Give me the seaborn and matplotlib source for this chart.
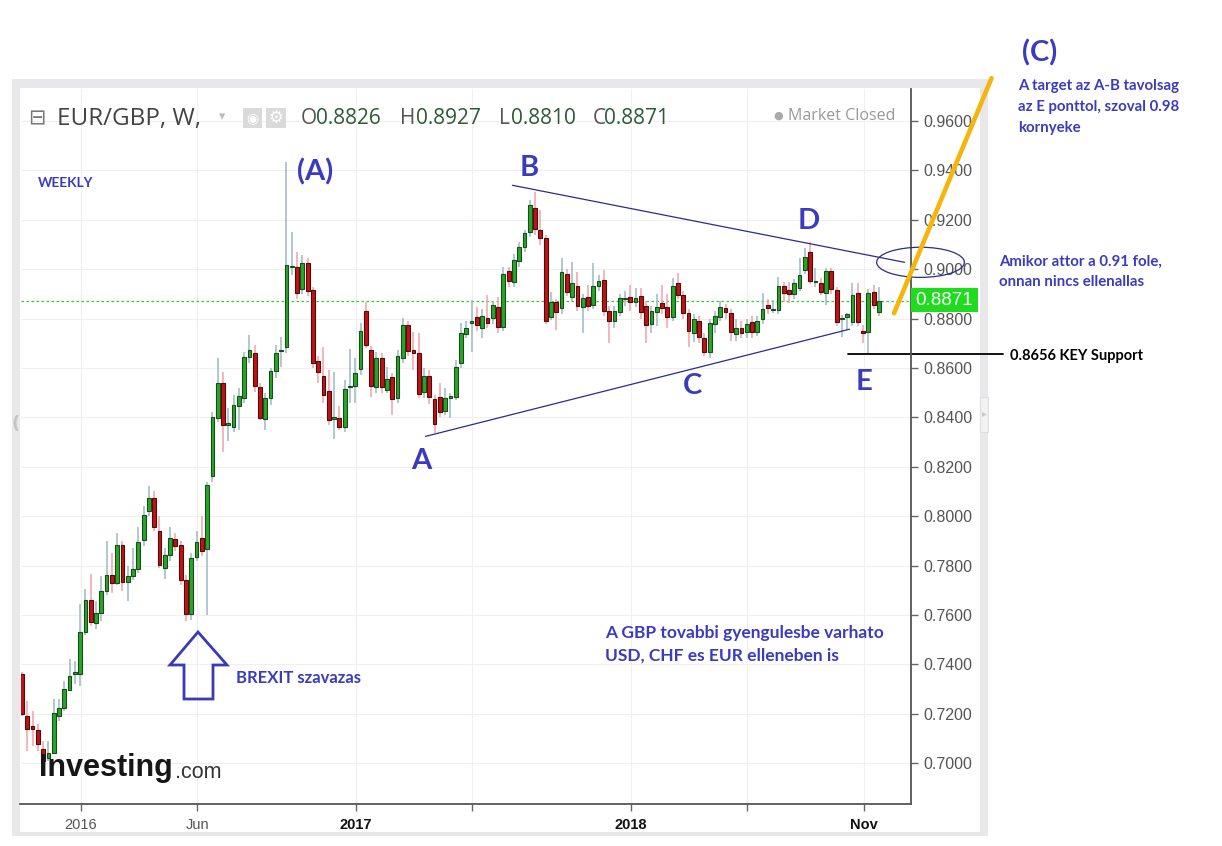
import numpy as np
import pandas as pd
import matplotlib.pyplot as plt
import matplotlib.dates as mdates
from matplotlib.patches import Rectangle, Ellipse, Polygon
from matplotlib.ticker import FormatStrFormatter
import seaborn as sns

# weekly EUR/GBP candles
opens = [0.7362, 0.7191, 0.7151, 0.7135, 0.7057, 0.7021, 0.7041, 0.7191, 0.7224, 0.7297,
         0.7362, 0.7362, 0.7532, 0.7662, 0.7568, 0.7609, 0.7698, 0.7763, 0.7731, 0.7885,
         0.7735, 0.7759, 0.7787, 0.7905, 0.8019, 0.8075, 0.7941, 0.7791, 0.7844, 0.7909,
         0.7885, 0.7743, 0.7605, 0.7836, 0.7913, 0.7868, 0.8164, 0.8396, 0.8538, 0.8370,
         0.8359, 0.8448, 0.8477, 0.8643, 0.8659, 0.8521, 0.8392, 0.8477, 0.8586, 0.8668,
         0.8684, 0.9008, 0.9008, 0.8919, 0.9024, 0.8915, 0.8627, 0.8566, 0.8505, 0.8392,
         0.8396, 0.8363, 0.8521, 0.8529, 0.8594, 0.8830, 0.8671, 0.8521, 0.8639, 0.8509,
         0.8562, 0.8477, 0.8639, 0.8773, 0.8671, 0.8659, 0.8501, 0.8566, 0.8473, 0.8481,
         0.8424, 0.8477, 0.8481, 0.8619, 0.8736, 0.8781, 0.8805, 0.8761, 0.8801, 0.8801,
         0.8846, 0.8765, 0.8992, 0.8947, 0.9033, 0.9089, 0.9150, 0.9247, 0.9158, 0.9126,
         0.8805, 0.8866, 0.8842, 0.8980, 0.8886, 0.8931, 0.8846, 0.8886, 0.8854, 0.8931,
         0.8955, 0.8830, 0.8789, 0.8826, 0.8880, 0.8886, 0.8866, 0.8890, 0.8850, 0.8777,
         0.8826, 0.8862, 0.8846, 0.8805, 0.8943, 0.8894, 0.8822, 0.8740, 0.8789, 0.8720,
         0.8663, 0.8777, 0.8805, 0.8842, 0.8822, 0.8736, 0.8760, 0.8745, 0.8785, 0.8745,
         0.8797, 0.8854, 0.8836, 0.8834, 0.8931, 0.8915, 0.8898, 0.8923, 0.8996, 0.9069,
         0.8947, 0.8943, 0.8903, 0.8992, 0.8915, 0.8797, 0.8805, 0.8785, 0.8903, 0.8748,
         0.8745, 0.8907, 0.8826]
highs = [0.7370, 0.7252, 0.7211, 0.7159, 0.7090, 0.7090, 0.7260, 0.7260, 0.7333, 0.7422,
         0.7414, 0.7645, 0.7706, 0.7767, 0.7657, 0.7759, 0.7901, 0.7852, 0.7933, 0.7900,
         0.7800, 0.7870, 0.7954, 0.8040, 0.8124, 0.8100, 0.8002, 0.7870, 0.7954, 0.7933,
         0.7901, 0.7760, 0.7850, 0.7941, 0.8002, 0.8140, 0.8420, 0.8639, 0.8582, 0.8436,
         0.8489, 0.8517, 0.8663, 0.8732, 0.8692, 0.8540, 0.8500, 0.8600, 0.8692, 0.8724,
         0.9434, 0.9150, 0.9069, 0.9057, 0.9045, 0.8930, 0.8650, 0.8684, 0.8590, 0.8582,
         0.8448, 0.8550, 0.8675, 0.8639, 0.8781, 0.8866, 0.8690, 0.8663, 0.8660, 0.8602,
         0.8580, 0.8671, 0.8801, 0.8790, 0.8744, 0.8740, 0.8598, 0.8590, 0.8490, 0.8538,
         0.8517, 0.8500, 0.8631, 0.8781, 0.8790, 0.8874, 0.8846, 0.8840, 0.8894, 0.8870,
         0.8886, 0.9008, 0.9010, 0.9060, 0.9110, 0.9160, 0.9280, 0.9312, 0.9239, 0.9140,
         0.8907, 0.8880, 0.9044, 0.9000, 0.9028, 0.8988, 0.8900, 0.8935, 0.9024, 0.8975,
         0.8996, 0.8850, 0.8850, 0.8900, 0.8910, 0.8935, 0.8923, 0.8923, 0.8870, 0.8850,
         0.8900, 0.8935, 0.8900, 0.8963, 0.8984, 0.8910, 0.8840, 0.8820, 0.8810, 0.8740,
         0.8800, 0.8830, 0.8870, 0.8860, 0.8840, 0.8800, 0.8790, 0.8800, 0.8810, 0.8810,
         0.8903, 0.8880, 0.8874, 0.8967, 0.8947, 0.8947, 0.8960, 0.9044, 0.9085, 0.9109,
         0.9004, 0.8963, 0.9004, 0.9004, 0.8930, 0.8813, 0.8822, 0.8943, 0.8943, 0.8773,
         0.8920, 0.8935, 0.8927]
lows = [0.7190, 0.7049, 0.7070, 0.7049, 0.6999, 0.7009, 0.7037, 0.7171, 0.7211, 0.7293,
        0.7321, 0.7313, 0.7520, 0.7556, 0.7544, 0.7576, 0.7680, 0.7690, 0.7720, 0.7698,
        0.7658, 0.7740, 0.7770, 0.7880, 0.8000, 0.7940, 0.7790, 0.7747, 0.7820, 0.7860,
        0.7720, 0.7576, 0.7581, 0.7820, 0.7840, 0.7600, 0.8140, 0.8380, 0.8258, 0.8306,
        0.8339, 0.8347, 0.8460, 0.8620, 0.8501, 0.8388, 0.8347, 0.8450, 0.8560, 0.8602,
        0.8660, 0.8976, 0.8880, 0.8900, 0.8890, 0.8600, 0.8538, 0.8460, 0.8370, 0.8314,
        0.8347, 0.8340, 0.8460, 0.8460, 0.8570, 0.8680, 0.8481, 0.8500, 0.8500, 0.8500,
        0.8408, 0.8460, 0.8620, 0.8650, 0.8590, 0.8480, 0.8480, 0.8456, 0.8335, 0.8400,
        0.8408, 0.8396, 0.8470, 0.8600, 0.8720, 0.8663, 0.8750, 0.8720, 0.8760, 0.8780,
        0.8740, 0.8750, 0.8930, 0.8930, 0.9010, 0.9070, 0.9130, 0.9140, 0.9100, 0.8780,
        0.8793, 0.8752, 0.8820, 0.8890, 0.8870, 0.8830, 0.8740, 0.8830, 0.8840, 0.8910,
        0.8810, 0.8700, 0.8760, 0.8810, 0.8850, 0.8830, 0.8846, 0.8800, 0.8700, 0.8740,
        0.8770, 0.8820, 0.8760, 0.8790, 0.8880, 0.8800, 0.8684, 0.8704, 0.8700, 0.8650,
        0.8639, 0.8740, 0.8790, 0.8800, 0.8710, 0.8710, 0.8720, 0.8720, 0.8720, 0.8730,
        0.8780, 0.8820, 0.8822, 0.8820, 0.8866, 0.8862, 0.8880, 0.8910, 0.8980, 0.8940,
        0.8927, 0.8894, 0.8854, 0.8900, 0.8770, 0.8724, 0.8752, 0.8770, 0.8770, 0.8700,
        0.8656, 0.8840, 0.8810]
closes = [0.7199, 0.7139, 0.7139, 0.7078, 0.7009, 0.7041, 0.7203, 0.7224, 0.7301, 0.7353,
          0.7370, 0.7532, 0.7662, 0.7572, 0.7609, 0.7698, 0.7763, 0.7731, 0.7885, 0.7735,
          0.7759, 0.7787, 0.7897, 0.8006, 0.8075, 0.7954, 0.7804, 0.7844, 0.7913, 0.7881,
          0.7743, 0.7605, 0.7832, 0.7897, 0.7860, 0.8128, 0.8400, 0.8538, 0.8371, 0.8376,
          0.8452, 0.8485, 0.8643, 0.8671, 0.8529, 0.8396, 0.8477, 0.8586, 0.8659, 0.8671,
          0.9016, 0.9012, 0.8903, 0.9024, 0.8911, 0.8619, 0.8582, 0.8489, 0.8388, 0.8400,
          0.8363, 0.8513, 0.8529, 0.8578, 0.8748, 0.8692, 0.8529, 0.8639, 0.8521, 0.8554,
          0.8473, 0.8647, 0.8773, 0.8667, 0.8659, 0.8493, 0.8566, 0.8481, 0.8375, 0.8420,
          0.8477, 0.8485, 0.8602, 0.8740, 0.8760, 0.8789, 0.8773, 0.8809, 0.8781, 0.8854,
          0.8765, 0.8980, 0.8951, 0.9036, 0.9089, 0.9146, 0.9259, 0.9162, 0.9126, 0.8789,
          0.8866, 0.8825, 0.8988, 0.8907, 0.8943, 0.8850, 0.8882, 0.8850, 0.8931, 0.8951,
          0.8830, 0.8789, 0.8830, 0.8882, 0.8884, 0.8866, 0.8882, 0.8826, 0.8773, 0.8830,
          0.8846, 0.8842, 0.8805, 0.8931, 0.8894, 0.8822, 0.8748, 0.8797, 0.8724, 0.8663,
          0.8781, 0.8809, 0.8846, 0.8826, 0.8745, 0.8760, 0.8740, 0.8777, 0.8745, 0.8789,
          0.8840, 0.8842, 0.8840, 0.8931, 0.8903, 0.8898, 0.8943, 0.8975, 0.9048, 0.8951,
          0.8951, 0.8907, 0.8992, 0.8919, 0.8785, 0.8801, 0.8817, 0.8894, 0.8785, 0.8740,
          0.8903, 0.8854, 0.8871]
first_week = "2015-10-17"
last_price = 0.8871

y_ticks = [0.70, 0.72, 0.74, 0.76, 0.78, 0.80, 0.82, 0.84, 0.86, 0.88, 0.90, 0.92, 0.94, 0.96]
x_tick_dates = ["2016-01-03", "2016-06-05", "2017-01-01", "2017-06-04", "2017-12-31", "2018-06-03", "2018-11-04"]
x_tick_labels = ["2016", "Jun", "2017", "", "2018", "", "Nov"]
x_tick_bold = [False, False, True, False, True, False, True]

# hand-drawn lines on the chart
upper_dates = ["2017-07-27", "2018-12-28"]
upper_prices = [0.9340, 0.9028]
lower_dates = ["2017-04-03", "2018-10-16"]
lower_prices = [0.8323, 0.8757]
support_dates = ["2018-10-14", "2019-05-07"]
support_prices = [0.8656, 0.8656]
target_dates = ["2018-12-14", "2019-04-22"]
target_prices = [0.8822, 0.9774]
ellipse_center = ("2019-01-18", 0.9028)
ellipse_size = (116.0, 0.0122)  # days, price

df = pd.DataFrame({
    "week": pd.date_range(first_week, periods=len(closes), freq="7D"),
    "open": opens, "high": highs, "low": lows, "close": closes,
})

W, H = 1222, 846
BLUE = "#3b3bc0"
LINE_BLUE = "#2b2b8c"

sns.set_theme(style="white")
plt.rcParams['font.family'] = ['Liberation Sans', 'DejaVu Sans']

fig = plt.figure(figsize=(W / 100, H / 100), dpi=100)


def fx(px):
    return px / W


def fy(py):
    return 1 - py / H


def frect(x0, y0, x1, y1, **kw):
    fig.add_artist(Rectangle((fx(x0), fy(y1)), fx(x1) - fx(x0), fy(y0) - fy(y1),
                             transform=fig.transFigure, **kw))


# widget frame
frect(12, 79, 988, 836, facecolor="#e8e8ea", edgecolor="none", zorder=0)
frect(20, 88, 980, 832, facecolor="white", edgecolor="none", zorder=0)
frect(980, 397, 988, 432, facecolor="#f2f2f2", edgecolor="#dddddd", lw=0.8, zorder=1)
fig.text(fx(984), fy(413), "▸", family=["DejaVu Sans"], fontsize=7, color="#c8c8c8",
         ha="center", va="center")
fig.text(fx(16), fy(424), "(", family=["DejaVu Sans"], fontsize=13, color="#c4c4c4",
         ha="center", va="center", fontweight="bold")

ax = fig.add_axes([fx(20.5), fy(804), fx(911) - fx(20.5), fy(89) - fy(804)])
ax.set_facecolor("white")

# candles
up = df["close"] >= df["open"]
body_color = np.where(up, "#25a825", "#c41212")
edge_color = np.where(up, "#1c4a1c", "#4a0e0e")
wick_color = np.where(up, "#9db9c3", "#f1a2aa")
ax.vlines(df["week"], df["low"], df["high"], colors=wick_color, lw=1.1, zorder=2)
body_bottom = np.minimum(df["open"], df["close"])
body_height = np.maximum((df["close"] - df["open"]).abs(), 0.0003)
ax.bar(df["week"], body_height, bottom=body_bottom, width=5.0,
       color=body_color, edgecolor=edge_color, linewidth=0.8, zorder=3)

ax.axhline(last_price, color="#2fcc2f", lw=0.9, ls=(0, (2, 2)), zorder=1)

# trend lines
sns.lineplot(x=pd.to_datetime(upper_dates), y=upper_prices, ax=ax, color=LINE_BLUE, lw=0.9)
sns.lineplot(x=pd.to_datetime(lower_dates), y=lower_prices, ax=ax, color=LINE_BLUE, lw=0.9)
sns.lineplot(x=pd.to_datetime(support_dates), y=support_prices, ax=ax, color="black", lw=1.3)
ax.lines[-1].set_clip_on(False)
sns.lineplot(x=pd.to_datetime(target_dates), y=target_prices, ax=ax, color="#f7b50c", lw=3.3)
ax.lines[-1].set_clip_on(False)
ax.lines[-1].set_zorder(6)
ax.add_patch(Ellipse((mdates.date2num(pd.Timestamp(ellipse_center[0])), ellipse_center[1]),
                     width=ellipse_size[0], height=ellipse_size[1], fill=False,
                     edgecolor=LINE_BLUE, lw=0.9, clip_on=False, zorder=5))

ax.set_xlim(pd.Timestamp("2015-10-15 02:00"), pd.Timestamp("2019-01-05 10:00"))
ax.set_ylim(0.6834, 0.9730)

ax.set_yticks(y_ticks)
ax.yaxis.tick_right()
ax.yaxis.set_major_formatter(FormatStrFormatter('%.4f'))
ax.tick_params(axis="y", direction="out", length=5, width=1, color="#666",
               labelcolor="#555", labelsize=11.5, pad=4, right=True, left=False)
ax.set_xticks(pd.to_datetime(x_tick_dates))
ax.set_xticklabels(x_tick_labels)
ax.tick_params(axis="x", direction="out", length=5, width=1, color="#666",
               labelsize=10.5, pad=5, bottom=True)
for lab, bold in zip(ax.get_xticklabels(), x_tick_bold):
    lab.set_fontweight("bold" if bold else "normal")
    lab.set_color("#111" if bold else "#555")
ax.set_xlabel("")
ax.set_ylabel("")
ax.grid(True, color="#efefef", lw=0.8)
ax.set_axisbelow(True)
for side in ["top", "left"]:
    ax.spines[side].set_visible(False)
for side in ["bottom", "right"]:
    ax.spines[side].set_color("#555")
    ax.spines[side].set_linewidth(1.3)

# last price tag
frect(911, 288, 978, 312, facecolor="#1fdc1f", edgecolor="none", zorder=7)
fig.text(fx(944.5), fy(300), f"{last_price:.4f}", color="white", fontsize=13.5,
         ha="center", va="center", zorder=8)

# header
icon_font = ["DejaVu Sans"]
head_font = ["Open Sans", "DejaVu Sans"]
fig.text(fx(37), fy(118), "⊟", family=icon_font, fontsize=15, color="#777", ha="center", va="center")
fig.text(fx(57), fy(119), "EUR/GBP, W,", family=head_font, fontsize=17.5, color="#444", va="center")
fig.text(fx(222), fy(117), "▾", family=icon_font, fontsize=9, color="#bbb", ha="center", va="center")
frect(243, 108, 262, 128, facecolor="#dadada", edgecolor="none")
frect(266, 108, 286, 128, facecolor="#dadada", edgecolor="none")
fig.text(fx(252.5), fy(118), "◉", family=icon_font, fontsize=10, color="white", ha="center", va="center")
fig.text(fx(276), fy(118), "⚙", family=icon_font, fontsize=12, color="white", ha="center", va="center")
ohlc = [("O", 301, "0.8826", 316), ("H", 400, "0.8927", 416),
        ("L", 499, "0.8810", 511), ("C", 593, "0.8871", 604)]
for letter, lx, num, nx in ohlc:
    fig.text(fx(lx), fy(119), letter, family=head_font, fontsize=15, color="#555", va="center")
    fig.text(fx(nx), fy(119), num, family=head_font, fontsize=15, color="#2c5a36", va="center")
fig.text(fx(778), fy(116), "●", family=icon_font, fontsize=8, color="#aaa", ha="center", va="center")
fig.text(fx(788), fy(116), "Market Closed", family=head_font, fontsize=11.5, color="#999", va="center")

# logo
fig.text(fx(39), fy(768), "Investing", fontsize=22, fontweight="bold", color="#161616", va="center")
fig.text(fx(175), fy(772), ".com", fontsize=15.5, color="#333", va="center")

# annotations
ann_font = ["Lato", "DejaVu Sans"]
big_labels = [("(A)", 315, 172), ("B", 529, 168), ("D", 809, 221), ("A", 421, 461),
              ("C", 692, 386), ("E", 864, 382), ("(C)", 1040, 53)]
for txt, px, py in big_labels:
    fig.text(fx(px), fy(py), txt, family=ann_font, fontsize=21, fontweight="bold",
             color=BLUE, ha="center", va="center")
fig.text(fx(38), fy(183), "WEEKLY", family=ann_font, fontsize=9.8, fontweight="bold",
         color=BLUE, va="center")
target_lines = ["A target az A-B tavolsag", "az E ponttol, szoval 0.98", "kornyeke"]
for i, line in enumerate(target_lines):
    fig.text(fx(1018), fy(86 + 21 * i), line, family=ann_font, fontsize=10.8,
             fontweight="bold", color=BLUE, va="center")
for i, line in enumerate(["Amikor attor a 0.91 fole,", "onnan nincs ellenallas"]):
    fig.text(fx(999), fy(262 + 19.5 * i), line, family=ann_font, fontsize=10.8,
             fontweight="bold", color=BLUE, va="center")
fig.text(fx(1010), fy(356), "0.8656 KEY Support", family=ann_font, fontsize=10.5,
         fontweight="bold", color="black", va="center")
fig.text(fx(236), fy(678), "BREXIT szavazas", family=ann_font, fontsize=12,
         fontweight="bold", color=BLUE, va="center")
for i, line in enumerate(["A GBP tovabbi gyengulesbe varhato", "USD, CHF es EUR elleneben is"]):
    fig.text(fx(605), fy(633 + 23 * i), line, family=ann_font, fontsize=12.5,
             fontweight="bold", color=BLUE, va="center")

# hollow arrow for the referendum
arrow_px = [(198, 632), (227, 665), (213, 665), (213, 699), (184, 699), (184, 665), (170, 665)]
fig.add_artist(Polygon([(fx(x), fy(y)) for x, y in arrow_px], closed=True, fill=False,
                       edgecolor="#3a3ab8", lw=2, transform=fig.transFigure, zorder=6))

fig.savefig("out.png", dpi=100)
